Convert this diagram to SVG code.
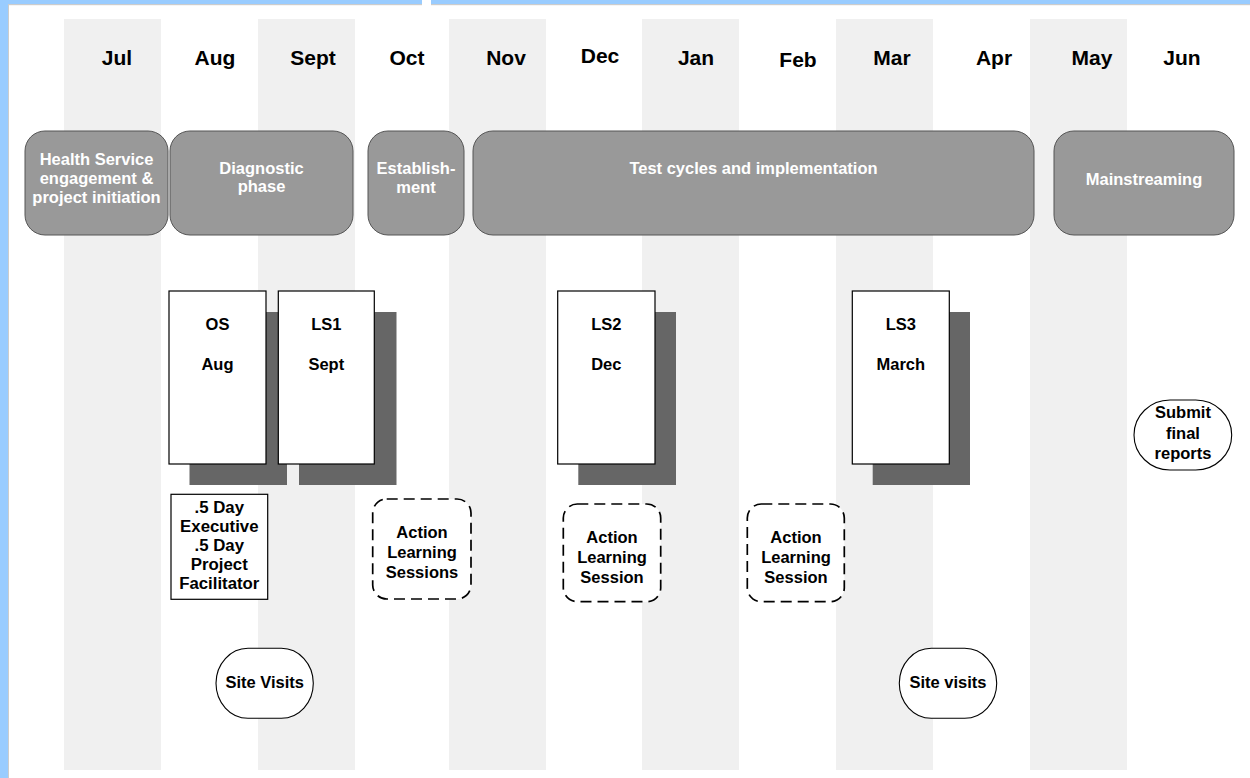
<svg xmlns="http://www.w3.org/2000/svg" width="1250" height="778" viewBox="0 0 1250 778">
<style>
text{font-family:"Liberation Sans",Arial,sans-serif;font-weight:bold;text-anchor:middle}
.month{font-size:21px;fill:#000}
.ph{fill:#999999;stroke:#555555;stroke-width:1}
.phtxt{font-size:16.5px;fill:#ffffff}
.box{fill:#ffffff;stroke:#000000;stroke-width:1.2}
.shadow{fill:#666666}
.t{font-size:16.5px;fill:#000}
.t2{font-size:16.8px;fill:#000}
.dash{fill:#ffffff;stroke:#000000;stroke-width:1.7;stroke-dasharray:11 6}
.oval{fill:#ffffff;stroke:#000000;stroke-width:1.1}
.col{fill:#f0f0f0}
</style>
<rect x="0" y="0" width="1250" height="778" fill="#ffffff"/>
<g id="frame">
<rect x="0" y="0" width="422" height="4" fill="#99ccff"/>
<rect x="431" y="0" width="819" height="4" fill="#99ccff"/>
<rect x="8" y="4" width="414" height="1.2" fill="#cccccc"/>
<rect x="431" y="4" width="819" height="1.2" fill="#cccccc"/>
<rect x="0" y="0" width="8" height="778" fill="#99ccff"/>
<rect x="8" y="5" width="1" height="773" fill="#cccccc"/>
</g>
<g id="columns">
<rect class="col" x="64" y="19" width="97" height="751"/>
<rect class="col" x="258" y="19" width="97" height="751"/>
<rect class="col" x="449" y="19" width="97" height="751"/>
<rect class="col" x="642" y="19" width="97" height="751"/>
<rect class="col" x="836" y="19" width="97" height="751"/>
<rect class="col" x="1030" y="19" width="97" height="751"/>
</g>
<g id="months">
<text class="month" x="117" y="65">Jul</text>
<text class="month" x="215" y="65">Aug</text>
<text class="month" x="313" y="65">Sept</text>
<text class="month" x="407" y="65">Oct</text>
<text class="month" x="506" y="65">Nov</text>
<text class="month" x="600" y="63">Dec</text>
<text class="month" x="696" y="65">Jan</text>
<text class="month" x="798" y="67">Feb</text>
<text class="month" x="892" y="65">Mar</text>
<text class="month" x="994" y="65">Apr</text>
<text class="month" x="1092" y="65">May</text>
<text class="month" x="1182" y="65">Jun</text>
</g>
<g id="phase-health">
<rect class="ph" x="25" y="131" width="143" height="104" rx="20"/>
<text class="phtxt" x="96.5" y="165">Health Service</text>
<text class="phtxt" x="96.5" y="184">engagement &amp;</text>
<text class="phtxt" x="96.5" y="203">project initiation</text>
</g>
<g id="phase-diagnostic">
<rect class="ph" x="170" y="131" width="183" height="104" rx="20"/>
<text class="phtxt" x="261.5" y="174">Diagnostic</text>
<text class="phtxt" x="261.5" y="192">phase</text>
</g>
<g id="phase-establishment">
<rect class="ph" x="368" y="131" width="96" height="104" rx="20"/>
<text class="phtxt" x="416" y="174">Establish-</text>
<text class="phtxt" x="416" y="193">ment</text>
</g>
<g id="phase-test">
<rect class="ph" x="473" y="131" width="561" height="104" rx="20"/>
<text class="phtxt" x="753.5" y="174">Test cycles and implementation</text>
</g>
<g id="phase-mainstreaming">
<rect class="ph" x="1054" y="131" width="180" height="104" rx="20"/>
<text class="phtxt" x="1144" y="185">Mainstreaming</text>
</g>
<g id="session-os">
<rect class="shadow" x="189.5" y="312" width="97.5" height="173"/>
<rect class="box" x="169" y="291" width="97" height="173"/>
<text class="t" x="217.5" y="330">OS</text>
<text class="t" x="217.5" y="370">Aug</text>
</g>
<g id="session-ls1">
<rect class="shadow" x="299" y="312" width="97.5" height="173"/>
<rect class="box" x="278.3" y="291" width="96" height="173"/>
<text class="t" x="326.3" y="330">LS1</text>
<text class="t" x="326.3" y="370">Sept</text>
</g>
<g id="session-ls2">
<rect class="shadow" x="578.3" y="312" width="97.7" height="173"/>
<rect class="box" x="557.7" y="291" width="97.3" height="173"/>
<text class="t" x="606.3" y="330">LS2</text>
<text class="t" x="606.3" y="370">Dec</text>
</g>
<g id="session-ls3">
<rect class="shadow" x="872.7" y="312" width="97.3" height="173"/>
<rect class="box" x="852.3" y="291" width="97" height="173"/>
<text class="t" x="900.8" y="330">LS3</text>
<text class="t" x="900.8" y="370">March</text>
</g>
<g id="exec-day">
<rect class="box" x="171" y="494.3" width="96.7" height="105"/>
<text class="t2" x="219.3" y="513">.5 Day</text>
<text class="t2" x="219.3" y="532">Executive</text>
<text class="t2" x="219.3" y="551">.5 Day</text>
<text class="t2" x="219.3" y="570">Project</text>
<text class="t2" x="219.3" y="589">Facilitator</text>
</g>
<g id="als-oct">
<rect class="dash" x="372.7" y="499" width="98.3" height="100" rx="14"/>
<text class="t" x="422" y="538">Action</text>
<text class="t" x="422" y="558">Learning</text>
<text class="t" x="422" y="578">Sessions</text>
</g>
<g id="als-dec">
<rect class="dash" x="563.3" y="504" width="97.4" height="97.7" rx="14"/>
<text class="t" x="612" y="543">Action</text>
<text class="t" x="612" y="563">Learning</text>
<text class="t" x="612" y="583">Session</text>
</g>
<g id="als-feb">
<rect class="dash" x="747.3" y="504" width="97" height="97.7" rx="14"/>
<text class="t" x="796" y="543">Action</text>
<text class="t" x="796" y="563">Learning</text>
<text class="t" x="796" y="583">Session</text>
</g>
<g id="submit">
<rect class="oval" x="1134" y="400" width="97.7" height="70" rx="36" ry="35"/>
<text class="t" x="1183" y="418">Submit</text>
<text class="t" x="1183" y="439">final</text>
<text class="t" x="1183" y="459">reports</text>
</g>
<g id="site-visits-1">
<rect class="oval" x="216" y="648.3" width="97.3" height="70" rx="32" ry="35"/>
<text class="t" x="264.7" y="688">Site Visits</text>
</g>
<g id="site-visits-2">
<rect class="oval" x="899.3" y="648.3" width="97.4" height="70" rx="32" ry="35"/>
<text class="t" x="948" y="688">Site visits</text>
</g>
<g id="connectors"/>
</svg>
